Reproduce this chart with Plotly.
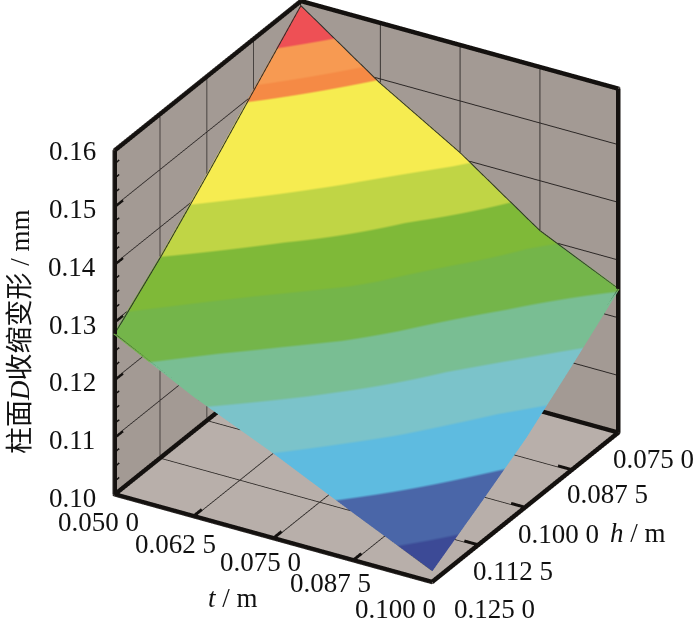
"""柱面D收缩变形の応答曲面"""
import plotly.graph_objects as go

t_vals = [0.05, 0.0625, 0.075, 0.0875, 0.1]
h_vals = [0.075, 0.0875, 0.1, 0.1125, 0.125]
z_ticks = [0.10, 0.11, 0.12, 0.13, 0.14, 0.15, 0.16]
z_minor = [0.1025, 0.105, 0.1075, 0.1125, 0.115, 0.1175, 0.1225, 0.125, 0.1275,
           0.1325, 0.135, 0.1375, 0.1425, 0.145, 0.1475, 0.1525, 0.155, 0.1575]

# 行: h, 列: t
deform = [
    [0.1590, 0.1494, 0.1412, 0.1315, 0.1251],
    [0.1510, 0.1425, 0.1340, 0.1262, 0.1185],
    [0.1428, 0.1352, 0.1285, 0.1200, 0.1122],
    [0.1350, 0.1280, 0.1215, 0.1145, 0.1071],
    [0.1280, 0.1210, 0.1150, 0.1085, 0.1022],
]

t_labels = ["0.050 0", "0.062 5", "0.075 0", "0.087 5", "0.100 0"]
h_labels = ["0.075 0", "0.087 5", "0.100 0", "0.112 5", "0.125 0"]
z_labels = ["0.10", "0.11", "0.12", "0.13", "0.14", "0.15", "0.16"]

levels = [0.10, 0.105, 0.11, 0.115, 0.12, 0.125, 0.13, 0.135, 0.14, 0.15, 0.1515, 0.155, 0.16]
band_colors = ["#3c4a96", "#4a66a8", "#5ebbe0", "#7bc3ca", "#79be93", "#74b54a",
               "#7fb938", "#c0d545", "#f6ec50", "#f58a45", "#f79a52", "#ee5055"]

LEFT_WALL = "#a39a94"
FLOOR = "#b8afaa"
SERIF = "Liberation Serif, Noto Sans CJK SC"

# 階段状カラースケール
lo, hi = levels[0], levels[-1]
colorscale = []
for i, c in enumerate(band_colors):
    colorscale.append([(levels[i] - lo) / (hi - lo), c])
    colorscale.append([(levels[i + 1] - lo) / (hi - lo), c])

fig = go.Figure()

fig.add_trace(go.Surface(
    x=t_vals, y=h_vals, z=deform,
    colorscale=colorscale, cmin=lo, cmax=hi, showscale=False,
    lighting=dict(ambient=1, diffuse=0, specular=0, fresnel=0),
    hoverinfo="skip",
))

# 範囲ちょうどの線は欠けるので、ほんの少し内側へ寄せる
t0, t1 = t_vals[0], t_vals[-1]
h0, h1 = h_vals[0], h_vals[-1]
z0, z1 = z_ticks[0], z_ticks[-1]
ti0, ti1 = t0 + 0.00015, t1 - 0.00015
hi0, hi1 = h0 + 0.00015, h1 - 0.00015
zi0, zi1 = z0 + 0.0002, z1 - 0.0002

# 曲面の外周の細線
rim_t = [ti0] + t_vals[1:4] + [ti1] * 5 + t_vals[3:0:-1] + [ti0] * 5
rim_h = [hi0] * 5 + h_vals[1:4] + [hi1] * 5 + h_vals[3:0:-1] + [hi0]
rim_z = deform[0] + [r[-1] for r in deform[1:]] + deform[-1][-2::-1] + [r[0] for r in deform[-2::-1]]
fig.add_trace(go.Scatter3d(
    x=rim_t, y=rim_h, z=rim_z, mode="lines",
    line=dict(color="#2a2f2a", width=2),
    hoverinfo="skip", showlegend=False,
))

# 箱の太線
edges = [
    ([ti0, ti0], [hi1, hi1], [zi0, zi1]),
    ([ti1, ti1], [hi0, hi0], [zi0, zi1]),
    ([ti0, ti0], [hi1, hi0], [zi1, zi1]),
    ([ti0, ti1], [hi0, hi0], [zi1, zi1]),
    ([ti0, ti1], [hi1, hi1], [zi0, zi0]),
    ([ti1, ti1], [hi1, hi0], [zi0, zi0]),
    ([ti0, ti0], [hi1, hi0], [zi0, zi0]),
    ([ti0, ti1], [hi0, hi0], [zi0, zi0]),
]
for ex, ey, ez in edges:
    fig.add_trace(go.Scatter3d(
        x=ex, y=ey, z=ez, mode="lines",
        line=dict(color="#14110f", width=9),
        hoverinfo="skip", showlegend=False,
    ))


def stubs(points, length_t, length_h, width):
    """軸上の短い目盛を1トレースにまとめて描く"""
    xs, ys, zs = [], [], []
    for pt, ph, pz in points:
        xs += [pt, pt + length_t, None]
        ys += [ph, ph + length_h, None]
        zs += [pz, pz, None]
    fig.add_trace(go.Scatter3d(
        x=xs, y=ys, z=zs, mode="lines",
        line=dict(color="#14110f", width=width),
        hoverinfo="skip", showlegend=False,
    ))


stubs([(ti0, hi1, v) for v in z_ticks[1:-1]], 0, -0.0022, 5)
stubs([(ti0, hi1, v) for v in z_minor], 0, -0.0012, 3)
stubs([(v, hi1, zi0) for v in t_vals[1:-1]], 0, -0.0022, 6)
stubs([(ti1, v, zi0) for v in h_vals[1:-1]], -0.0022, 0, 6)

# 目盛ラベルはデータ座標に固定
t_shift = [(-15, 26), (-18, 26), (-12, 22), (-22, 21), (-37, 25)]
h_shift = [(34, 25), (35, 23), (32, 25), (34, 25), (62, 25)]
notes = []
for v, s, (dx, dy) in zip(t_vals, t_labels, t_shift):
    notes.append(dict(x=v, y=h1, z=z0, text=s, xshift=dx, yshift=-dy))
for v, s, (dx, dy) in zip(h_vals, h_labels, h_shift):
    notes.append(dict(x=t1, y=v, z=z0, text=s, xshift=dx, yshift=-dy))
for v, s in zip(z_ticks, z_labels):
    notes.append(dict(x=t0, y=h1, z=v, text=s, xshift=-41, yshift=-2))
for n in notes:
    n.update(showarrow=False, xanchor="center", yanchor="middle",
             font=dict(family=SERIF, size=27, color="#111111"))

axis_common = dict(
    title=dict(text=""), showticklabels=False, showline=False,
    gridcolor="#2a2624", gridwidth=2, zeroline=False,
    showbackground=True, showspikes=False, ticks="",
)

text_font = dict(family=SERIF, size=27, color="#111111")

fig.update_layout(
    width=700, height=619,
    margin=dict(l=0, r=0, t=0, b=0),
    paper_bgcolor="white",
    showlegend=False,
    scene=dict(
        domain=dict(x=[0, 1], y=[0, 1]),
        aspectmode="manual",
        aspectratio=dict(x=1.196, y=1.196, z=1.268),
        camera=dict(
            projection=dict(type="orthographic"),
            up=dict(x=0, y=0, z=1),
            center=dict(x=-0.0321, y=-0.0506, z=-0.0513),
            eye=dict(x=0.6484, y=-1.2105, z=0.666),
        ),
        xaxis=dict(range=[t0, t1], tickvals=t_vals, backgroundcolor=LEFT_WALL, **axis_common),
        yaxis=dict(range=[h1, h0], tickvals=h_vals, backgroundcolor=LEFT_WALL, **axis_common),
        zaxis=dict(range=[z0, z1], tickvals=z_ticks, backgroundcolor=FLOOR, **axis_common),
        annotations=notes,
    ),
    annotations=[
        dict(x=20 / 700, y=1 - 332 / 619, xref="paper", yref="paper", showarrow=False,
             xanchor="center", yanchor="middle",
             text="柱面<i>D</i>收缩变形 / mm", textangle=-90,
             font=dict(family=SERIF, size=27, color="#111111")),
        dict(x=233 / 700, y=1 - 598 / 619, xref="paper", yref="paper", showarrow=False,
             xanchor="center", yanchor="middle", text="<i>t</i> / m", font=text_font),
        dict(x=638 / 700, y=1 - 533 / 619, xref="paper", yref="paper", showarrow=False,
             xanchor="center", yanchor="middle", text="<i>h</i> / m", font=text_font),
    ],
)

# 本文の既定余白を消して図を窓いっぱいに置く
fig.write_html("out.html", config=dict(displayModeBar=False),
               post_script="document.body.style.margin='0';")
